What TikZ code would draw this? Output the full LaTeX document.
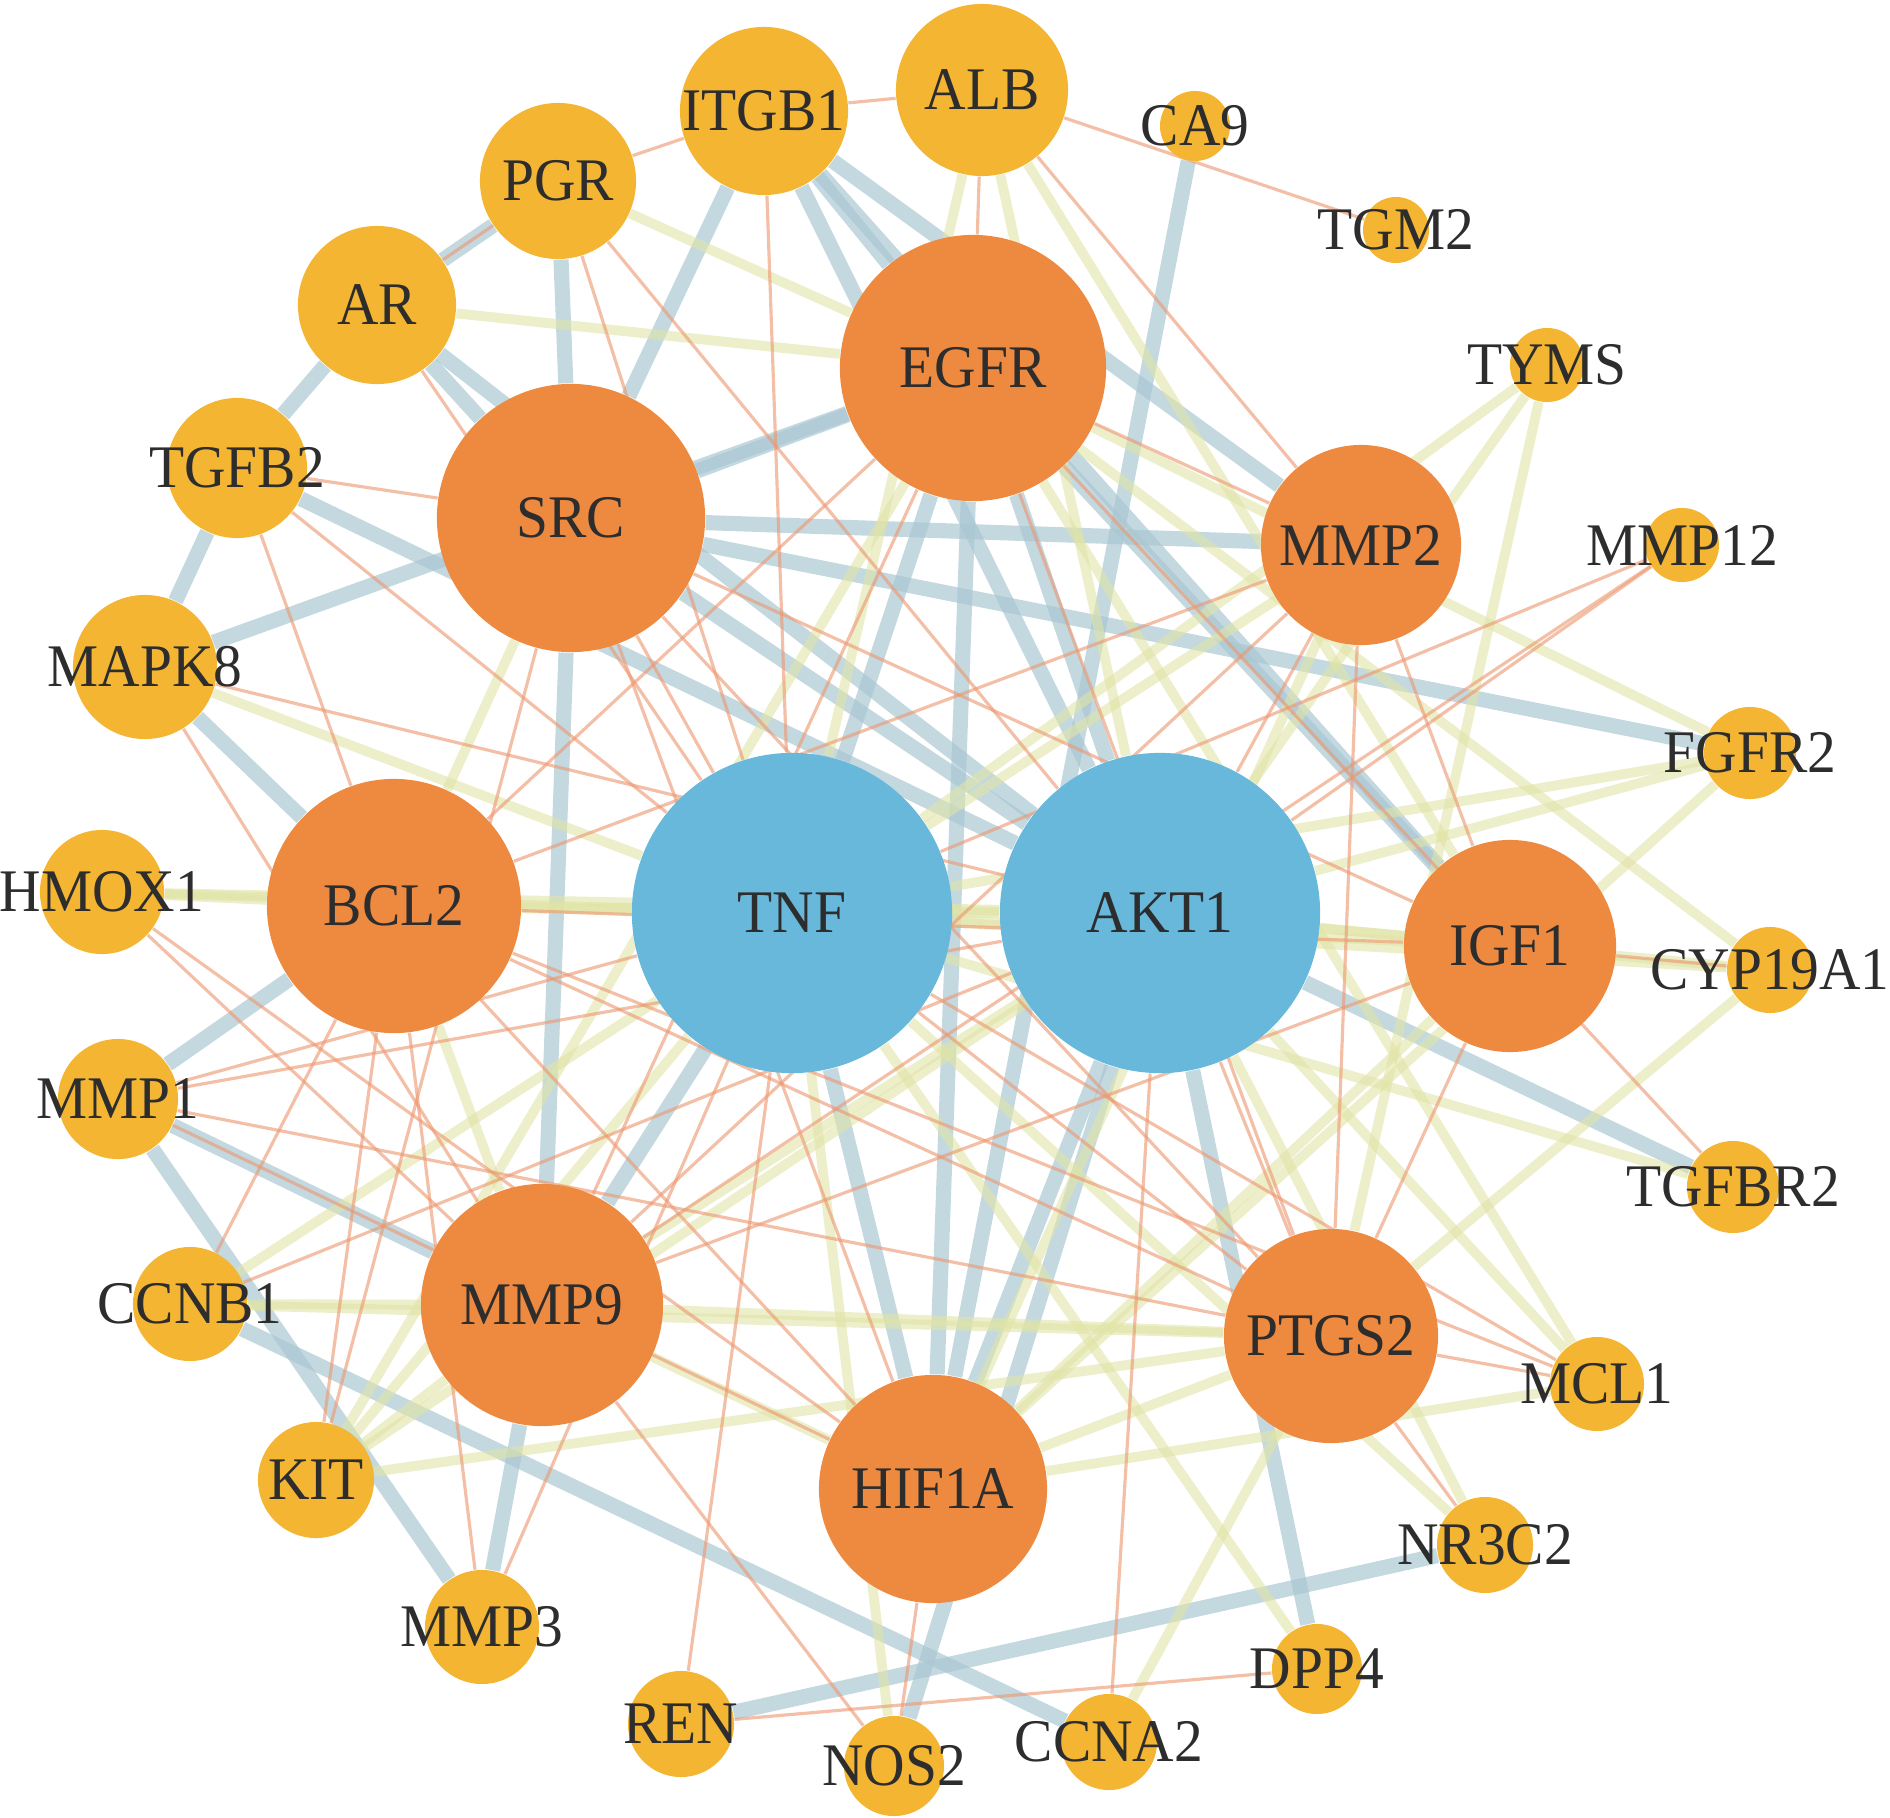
\documentclass[tikz,border=0pt]{standalone}
\usepackage{fontspec}
\setmainfont{Liberation Serif}[FakeStretch=0.95]
\usetikzlibrary{backgrounds}
\definecolor{hubblue}{RGB}{104,184,220}
\definecolor{coreorange}{RGB}{238,138,64}
\definecolor{leafyellow}{RGB}{244,181,50}
\definecolor{edgeblue}{RGB}{168,198,210}
\definecolor{edgeyellow}{RGB}{224,228,166}
\definecolor{edgeorange}{RGB}{236,152,112}
\definecolor{labelgray}{RGB}{45,45,45}
\begin{document}
\begin{tikzpicture}[x=0.01cm, y=-0.01cm,
    gene/.style={circle, inner sep=0pt, draw=none},
    genetext/.style={font=\fontsize{17.2}{20}\selectfont, text=labelgray, inner sep=0pt},
    hi/.style={draw=edgeblue, line width=4.3pt, draw opacity=0.68},
    mid/.style={draw=edgeyellow, line width=2.8pt, draw opacity=0.6},
    lo/.style={draw=edgeorange, line width=0.9pt, draw opacity=0.62}]
    \useasboundingbox (0,0) rectangle (1890,1818);
    % hub genes
    \foreach \g/\x/\y/\r/\c in {TNF/792/913/160/hubblue, AKT1/1160/913/160/hubblue,
        EGFR/973/368/133/coreorange, SRC/571/518/134/coreorange, MMP2/1361/545/100/coreorange,
        BCL2/394/906/127/coreorange, IGF1/1510/946/106/coreorange, MMP9/542/1305/121/coreorange,
        PTGS2/1331/1336/107/coreorange, HIF1A/933/1489/114/coreorange}
        {
        \node[gene, fill=\c, minimum size=\r*0.02cm] (\g) at (\x,\y) {};
        \node[genetext] (\g-txt) at (\g) {\g};
        }
    % outer ring
    \foreach \g/\x/\y/\r in {ITGB1/764/111/84, ALB/982/90/86, PGR/558/181/78, AR/377/305/79,
        TGFB2/237/468/70, MAPK8/145/667/72, HMOX1/102/892/62, MMP1/118/1099/60,
        CCNB1/190/1304/57, KIT/316/1480/58, MMP3/482/1627/57, REN/681/1724/53,
        NOS2/894/1766/50, CCNA2/1109/1742/48, DPP4/1317/1669/45, NR3C2/1485/1545/48,
        MCL1/1597/1384/47, TGFBR2/1733/1187/46, CYP19A1/1770/970/43, FGFR2/1750/753/46,
        MMP12/1682/545/37, TYMS/1547/365/37, TGM2/1396/230/33, CA9/1195/126/35}
        {
        \node[gene, fill=leafyellow, minimum size=\r*0.02cm] (\g) at (\x,\y) {};
        \node[genetext] (\g-txt) at (\g) {\g};
        }
    \begin{scope}[on background layer]
    % strong links
    \foreach \a/\b in {TNF/MMP9, TNF/HIF1A, TNF/EGFR, AKT1/EGFR, AKT1/SRC, AKT1/HIF1A,
        AKT1/ITGB1, AKT1/TGFB2, AKT1/NOS2, AKT1/DPP4, AKT1/TGFBR2, AKT1/AR,
        EGFR/SRC, EGFR/ITGB1, EGFR/MAPK8, EGFR/HIF1A, EGFR/IGF1, ITGB1/IGF1,
        SRC/MMP2, SRC/ITGB1, SRC/PGR, SRC/AR, SRC/MMP9, SRC/FGFR2, BCL2/MMP1,
        BCL2/MAPK8, MMP9/MMP1, MMP9/MMP3, HIF1A/CA9, MMP2/ITGB1, REN/NR3C2,
        CCNB1/CCNA2, MMP1/MMP3, AR/TGFB2, TGFB2/MAPK8, PGR/AR}
        \draw[hi] (\a) -- (\b);
    % medium links
    \foreach \a/\b in {TNF/AKT1, TNF/BCL2, TNF/IGF1, TNF/ALB, TNF/MAPK8, TNF/HMOX1,
        TNF/CCNB1, TNF/KIT, TNF/NOS2, TNF/NR3C2, TNF/TYMS, TNF/TGFBR2, TNF/FGFR2,
        TNF/CYP19A1, TNF/DPP4, TNF/MMP2, AKT1/BCL2, AKT1/IGF1, AKT1/MMP9, AKT1/ALB,
        AKT1/HMOX1, AKT1/KIT, AKT1/NR3C2, AKT1/MCL1, AKT1/CYP19A1, AKT1/FGFR2,
        AKT1/TYMS, EGFR/AR, EGFR/PGR, EGFR/FGFR2, EGFR/CYP19A1, EGFR/MCL1,
        EGFR/KIT, SRC/BCL2, BCL2/HMOX1, BCL2/MMP9, MMP9/HIF1A, MMP9/PTGS2, MMP9/CCNB1,
        MMP9/KIT, HIF1A/PTGS2, HIF1A/MCL1, HIF1A/MMP2, HIF1A/IGF1, HIF1A/FGFR2,
        PTGS2/TYMS, PTGS2/CCNA2, PTGS2/KIT, PTGS2/CCNB1, PTGS2/CYP19A1, ALB/IGF1}
        \draw[mid] (\a) -- (\b);
    % weak links
    \foreach \a/\b in {TNF/SRC, TNF/PTGS2, TNF/ITGB1, TNF/PGR, TNF/AR, TNF/TGFB2,
        TNF/MMP1, TNF/MMP3, TNF/REN, TNF/MCL1, TNF/MMP12, AKT1/MMP2, AKT1/PTGS2,
        AKT1/PGR, AKT1/MAPK8, AKT1/CCNA2, AKT1/MMP12, AKT1/MMP1, AKT1/CCNB1,
        EGFR/MMP2, EGFR/ALB, EGFR/BCL2, EGFR/MMP9, EGFR/PTGS2, EGFR/TGFBR2,
        SRC/TGFB2, SRC/HIF1A, SRC/PTGS2, SRC/IGF1, SRC/KIT, BCL2/TGFB2, BCL2/CCNB1,
        BCL2/KIT, BCL2/HIF1A, BCL2/PTGS2, BCL2/MCL1, BCL2/IGF1, BCL2/MMP2, BCL2/MMP3,
        MMP9/MAPK8, MMP9/MMP2, MMP9/NOS2, MMP9/IGF1, MMP9/HMOX1, MMP9/MMP12,
        HIF1A/HMOX1, HIF1A/MMP1, HIF1A/NOS2, PTGS2/MCL1, PTGS2/NR3C2, PTGS2/IGF1,
        PTGS2/MMP2, PTGS2/MMP1, MMP2/IGF1, MMP2/ALB, ITGB1/PGR, ITGB1/ALB, PGR/AR,
        ALB/TGM2, REN/DPP4, IGF1/CYP19A1}
        \draw[lo] (\a) -- (\b);
    \end{scope}
\end{tikzpicture}
\end{document}
